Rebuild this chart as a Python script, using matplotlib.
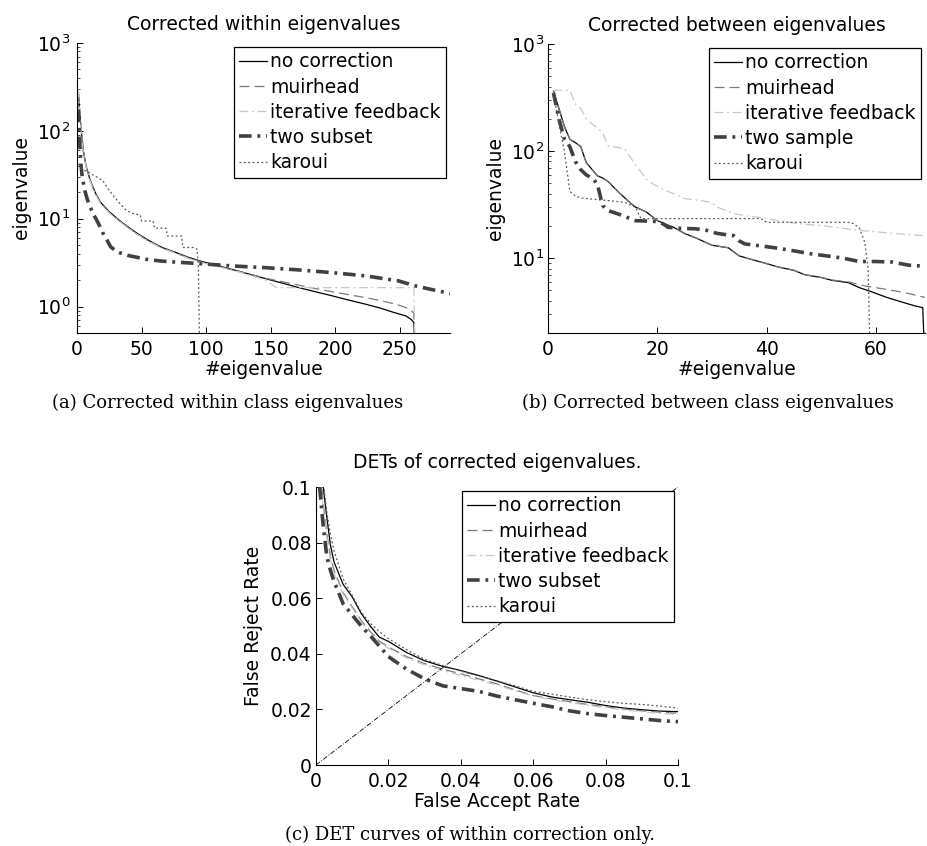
import matplotlib
matplotlib.use('Agg')
import matplotlib.pyplot as plt

# ---- (a) within class eigenvalues ----
a_nc_x = [1, 2, 3, 4, 5, 7, 10, 14, 18, 25, 35, 46, 56, 66, 77, 87, 97, 108, 120, 133, 146, 159, 172, 185, 198,
          211, 224, 235, 244, 250, 255, 259, 261, 262]
a_nc_y = [280, 170, 110, 80, 58, 40, 28, 20, 15.5, 12.0, 9.0, 6.9, 5.6, 4.7, 4.1, 3.6, 3.25, 2.95, 2.65, 2.35, 2.08,
          1.85, 1.64, 1.47, 1.32, 1.18, 1.06, 0.96, 0.87, 0.82, 0.78, 0.71, 0.66, 0.3]
a_mu_x = [1, 2, 3, 4, 5, 7, 10, 14, 18, 25, 35, 46, 56, 66, 77, 87, 97, 108, 120, 133, 146, 159, 172, 185, 198,
          211, 224, 235, 244, 250, 255, 259, 261, 262]
a_mu_y = [285, 168, 108, 78, 57, 39, 27.5, 19.6, 15.2, 11.8, 8.9, 6.8, 5.5, 4.65, 4.05, 3.55, 3.2, 2.9, 2.62, 2.35,
          2.1, 1.92, 1.75, 1.6, 1.47, 1.36, 1.26, 1.17, 1.09, 1.03, 0.97, 0.9, 0.84, 0.3]
a_it_x = [1, 2, 3, 4, 5, 7, 10, 14, 18, 25, 35, 46, 56, 66, 77, 87, 97, 108, 120, 133, 146, 154, 160, 200, 240, 261,
          262]
a_it_y = [300, 165, 105, 77, 56, 39, 27, 19.3, 15, 11.6, 8.8, 6.7, 5.45, 4.6, 4.0, 3.5, 3.15, 2.88, 2.6, 2.3, 2.0,
          1.66, 1.64, 1.64, 1.64, 1.64, 0.3]
a_ts_x = [1, 2, 3, 4, 6, 8, 10, 13, 15, 18, 20, 23, 26, 30, 33, 40, 56, 70, 92, 120, 146, 172, 198, 224, 249, 262,
          275, 290]
a_ts_y = [175, 80, 42, 30, 21, 16.5, 13.8, 11, 9.8, 8.0, 6.9, 5.8, 4.8, 4.3, 4.1, 3.8, 3.4, 3.25, 3.1, 2.9, 2.77,
          2.61, 2.43, 2.23, 1.96, 1.72, 1.56, 1.4]
a_ka_x = [1, 5, 10, 15, 20, 24, 28, 33, 38, 43, 49, 50, 59, 60, 69, 70, 81, 82, 90, 93, 94, 95]
a_ka_y = [42, 36, 33, 30, 27, 22, 18.3, 15, 12.5, 11.5, 11.0, 9.4, 9.4, 7.8, 7.8, 6.35, 6.35, 4.7, 4.7, 4.5, 3.0, 0.3]

# ---- (b) between class eigenvalues ----
b_nc_x = [1, 2, 3, 4, 5, 6, 7, 8, 9, 10, 11, 13, 15, 16, 18, 20, 23, 25, 27, 30, 33, 35, 37, 40, 42, 45, 47, 50,
          52, 55, 57, 59, 62, 64, 67, 68.6, 69]
b_nc_y = [363, 250, 170, 129, 120, 110, 78, 68, 59, 56, 52, 41, 33, 30, 27, 22.4, 19.4, 17, 15.5, 13.2, 12.5, 10.5,
          9.8, 8.9, 8.3, 7.7, 7.0, 6.6, 6.2, 5.9, 5.3, 4.9, 4.3, 4.0, 3.6, 3.45, 1.0]
b_mu_x = [1, 2, 3, 4, 5, 6, 7, 8, 9, 10, 11, 13, 15, 16, 18, 20, 23, 25, 27, 30, 33, 35, 37, 40, 42, 45, 47, 50,
          52, 55, 58, 60, 62, 65, 69]
b_mu_y = [363, 250, 170, 129, 120, 110, 78, 68, 59, 56, 52, 41, 33, 30, 27, 22.4, 19.4, 17, 15.5, 13.2, 12.5, 10.5,
          9.8, 8.9, 8.3, 7.7, 7.0, 6.6, 6.25, 6.0, 5.5, 5.3, 5.1, 4.8, 4.3]
b_it_x = [1, 4, 5, 6, 7, 8, 9, 10, 11, 12, 14, 16, 18, 19, 21, 23, 25, 28, 30, 31, 34, 37, 39, 42, 45, 48, 51, 54,
          57, 60, 63, 66, 69]
b_it_y = [370, 370, 275, 250, 200, 180, 165, 148, 112, 110, 105, 75, 55, 50, 44, 40, 36, 34.5, 33, 30, 26, 24.5,
          24, 22.4, 21.3, 20.5, 19.9, 19, 18.2, 17.6, 17.1, 16.6, 16.2]
b_ts_x = [1, 2, 3, 4, 5, 6, 7, 8, 9, 10, 11, 13, 16, 20, 21, 22, 24, 27, 29, 31, 34, 35, 36, 39, 42, 45, 48, 51, 54,
          57, 60, 63, 66, 69]
b_ts_y = [350, 200, 130, 110, 80, 67, 60, 56, 50, 31, 27.8, 25.7, 22.4, 22.0, 21, 19.4, 19, 18.8, 18.2, 17, 16.2,
          14.5, 13.6, 13.0, 12.4, 11.7, 11.0, 10.5, 10.0, 9.3, 9.3, 9.2, 8.6, 8.4]
b_ka_x = [1, 2, 3, 4, 5, 6, 8, 11, 14, 16, 17, 39, 40, 55, 56, 57, 58, 58.6, 59]
b_ka_y = [350, 180, 100, 42, 38, 36.5, 35.6, 34.5, 33.2, 30, 23.4, 23.4, 21.6, 21.6, 21, 19, 14, 8, 1.0]

# ---- (c) DET curves ----
c_fa = [0.001, 0.002, 0.003, 0.004, 0.005, 0.0075, 0.01, 0.0125, 0.015, 0.0175, 0.02, 0.025, 0.03, 0.035, 0.04,
        0.045, 0.05, 0.055, 0.06, 0.065, 0.07, 0.075, 0.08, 0.085, 0.09, 0.095, 0.1]
c_nc = [0.13, 0.100, 0.089, 0.079, 0.073, 0.065, 0.0605, 0.0545, 0.050, 0.046, 0.0445, 0.0405, 0.0375, 0.0355,
        0.034, 0.0322, 0.0302, 0.0281, 0.026, 0.0245, 0.0235, 0.0226, 0.0214, 0.0205, 0.0199, 0.0194, 0.0192]
c_mu = [0.11, 0.094, 0.083, 0.075, 0.070, 0.062, 0.057, 0.052, 0.048, 0.0445, 0.0425, 0.039, 0.0365, 0.0345,
        0.0328, 0.031, 0.0292, 0.027, 0.025, 0.0238, 0.0228, 0.0218, 0.021, 0.0202, 0.0195, 0.019, 0.0186]
c_it = [0.108, 0.092, 0.082, 0.074, 0.069, 0.0615, 0.0565, 0.0515, 0.0475, 0.044, 0.042, 0.0385, 0.036, 0.034,
        0.0322, 0.0305, 0.0288, 0.0267, 0.0248, 0.0235, 0.0225, 0.0215, 0.0206, 0.0198, 0.0192, 0.0186, 0.0182]
c_ts = [0.10, 0.086, 0.075, 0.070, 0.066, 0.058, 0.054, 0.050, 0.0465, 0.0428, 0.039, 0.0345, 0.031, 0.0285,
        0.0275, 0.0265, 0.0248, 0.0235, 0.0222, 0.021, 0.0195, 0.0185, 0.0178, 0.0172, 0.0166, 0.016, 0.0156]
c_ka = [0.14, 0.102, 0.091, 0.083, 0.077, 0.067, 0.061, 0.055, 0.051, 0.048, 0.0455, 0.0415, 0.038, 0.0358, 0.0338,
        0.032, 0.0303, 0.0285, 0.0265, 0.0255, 0.0245, 0.0235, 0.0228, 0.0222, 0.0218, 0.0212, 0.0205]

labels_ab = ['no correction', 'muirhead', 'iterative feedback']

plt.rcParams['font.family'] = ['DejaVu Sans']
plt.rcParams['font.size'] = 13.5
plt.rcParams['mathtext.default'] = 'regular'

styles = [
    dict(color='black', lw=0.9, ls='-'),
    dict(color='#7a7a7a', lw=0.9, ls=(0, (8, 4))),
    dict(color='#c8c8c4', lw=0.9, ls=(0, (7, 3, 1.5, 3))),
    dict(color='#404040', lw=2.6, ls=(0, (3.5, 1.6, 0.8, 1.6))),
    dict(color='#5a5a5a', lw=0.9, ls=(0, (1.5, 2))),
]


def style_axes(ax):
    for s in ['top', 'right']:
        ax.spines[s].set_visible(False)
    ax.tick_params(direction='in', length=4, width=0.7, which='major')
    ax.tick_params(direction='in', length=2, width=0.5, which='minor')
    ax.tick_params(axis='x', pad=5)


def add_legend(ax, names):
    leg = ax.legend(names, loc='upper right', fancybox=False, framealpha=1, edgecolor='black',
                    handlelength=1.5, handletextpad=0.15, labelspacing=0.33, borderpad=0.3,
                    borderaxespad=0.2)
    leg.get_frame().set_linewidth(0.9)


fig = plt.figure(figsize=(9.28, 8.46), dpi=100)

# panel a
ax1 = fig.add_axes([0.0830, 0.6064, 0.4019, 0.3428])
series_a = [(a_nc_x, a_nc_y), (a_mu_x, a_mu_y), (a_it_x, a_it_y), (a_ts_x, a_ts_y), (a_ka_x, a_ka_y)]
for (xs, ys), st in zip(series_a, styles):
    ax1.plot(xs, ys, **st)
ax1.set_yscale('log')
ax1.set_xlim(0, 289)
ax1.set_ylim(0.5, 1000)
ax1.set_xticks([0, 50, 100, 150, 200, 250])
style_axes(ax1)
ax1.tick_params(axis='y', pad=5)
ax1.set_title('Corrected within eigenvalues', pad=9, fontsize=13.5)
ax1.set_xlabel('#eigenvalue', labelpad=1)
ax1.set_ylabel('eigenvalue', labelpad=4)
add_legend(ax1, labels_ab + ['two subset', 'karoui'])

# panel b
ax2 = fig.add_axes([0.5905, 0.6064, 0.4062, 0.3416])
series_b = [(b_nc_x, b_nc_y), (b_mu_x, b_mu_y), (b_it_x, b_it_y), (b_ts_x, b_ts_y), (b_ka_x, b_ka_y)]
for (xs, ys), st in zip(series_b, styles):
    ax2.plot(xs, ys, **st)
ax2.set_yscale('log')
ax2.set_xlim(0, 69)
ax2.set_ylim(2, 1000)
ax2.set_xticks([0, 20, 40, 60])
style_axes(ax2)
ax2.tick_params(axis='y', pad=3)
ax2.set_title('Corrected between eigenvalues', pad=9, fontsize=13.5)
ax2.set_xlabel('#eigenvalue', labelpad=1)
ax2.set_ylabel('eigenvalue', labelpad=4)
add_legend(ax2, labels_ab + ['two sample', 'karoui'])

# panel c
ax3 = fig.add_axes([0.3405, 0.0957, 0.3901, 0.3286])
for ys, st in zip([c_nc, c_mu, c_it, c_ts, c_ka], styles):
    ax3.plot(c_fa, ys, **st)
ax3.plot([0, 0.1], [0, 0.1], color='black', lw=0.6, ls=(0, (6, 2, 1, 2)))
ax3.set_xlim(0, 0.1)
ax3.set_ylim(0, 0.1)
ax3.set_xticks([0, 0.02, 0.04, 0.06, 0.08, 0.1])
ax3.set_yticks([0, 0.02, 0.04, 0.06, 0.08, 0.1])
ax3.set_xticklabels(['0', '0.02', '0.04', '0.06', '0.08', '0.1'])
ax3.set_yticklabels(['0', '0.02', '0.04', '0.06', '0.08', '0.1'])
style_axes(ax3)
ax3.tick_params(axis='y', pad=3)
ax3.set_title('DETs of corrected eigenvalues.', pad=14, fontsize=13.5)
ax3.set_xlabel('False Accept Rate', labelpad=1)
ax3.set_ylabel('False Reject Rate', labelpad=5)
add_legend(ax3, labels_ab + ['two subset', 'karoui'])

# captions
cap = dict(family='DejaVu Serif', fontsize=13, ha='center', va='center')
fig.text(228 / 928, 1 - 403 / 846, '(a) Corrected within class eigenvalues', **cap)
fig.text(708 / 928, 1 - 403 / 846, '(b) Corrected between class eigenvalues', **cap)
fig.text(470 / 928, 1 - 835 / 846, '(c) DET curves of within correction only.', **cap)

fig.savefig('out.png', dpi=100)
